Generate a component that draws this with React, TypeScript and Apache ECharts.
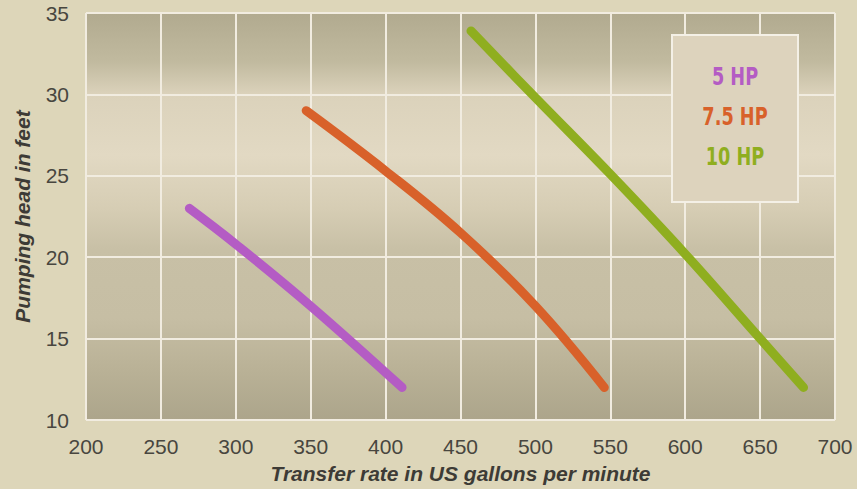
import React, { useEffect, useRef } from "react";
import * as echarts from "echarts";

const xTicks = [200, 250, 300, 350, 400, 450, 500, 550, 600, 650, 700];
const yTicks = [10, 15, 20, 25, 30, 35];

const hp5X = [269, 300, 350, 411];
const hp5Y = [23, 20.8, 17.0, 12];

const hp75X = [347, 400, 450, 500, 546];
const hp75Y = [29, 25.3, 21.5, 17.0, 12];

const hp10X = [457, 500, 550, 600, 650, 679];
const hp10Y = [33.9, 29.8, 25.1, 20.2, 15, 12];

const seriesNames = ["5 HP", "7.5 HP", "10 HP"];
const seriesColors = ["#b45cc4", "#d8612a", "#8fae1f"];

function pairs(xs: number[], ys: number[]) {
  return xs.map((x, i) => [x, ys[i]]);
}

export default function App() {
  const ref = useRef<HTMLDivElement>(null);
  useEffect(() => {
    if (!ref.current) return;
    const chart = echarts.init(ref.current, null, { renderer: "svg" });
    const datasets = [pairs(hp5X, hp5Y), pairs(hp75X, hp75Y), pairs(hp10X, hp10Y)];
    const labelFont = "'Liberation Sans', Arial, sans-serif";
    chart.setOption({
      animation: false,
      backgroundColor: "#ddd6b9",
      grid: {
        left: 86,
        right: 22,
        top: 13,
        bottom: 67,
        show: true,
        borderWidth: 1,
        borderColor: "#b0a98e",
        backgroundColor: new echarts.graphic.LinearGradient(0, 0, 0, 1, [
          { offset: 0, color: "#b1aa8f" },
          { offset: 0.12, color: "#c1ba9f" },
          { offset: 0.2, color: "#dbd2bb" },
          { offset: 0.35, color: "#e2d9c3" },
          { offset: 0.48, color: "#d6cdb4" },
          { offset: 0.58, color: "#c8c0a6" },
          { offset: 0.75, color: "#c6bea4" },
          { offset: 0.88, color: "#b9b196" },
          { offset: 1, color: "#aca58b" },
        ]),
      },
      xAxis: {
        type: "value",
        min: 200,
        max: 700,
        interval: 50,
        name: "Transfer rate in US gallons per minute",
        nameLocation: "middle",
        nameGap: 43,
        nameTextStyle: {
          fontFamily: labelFont,
          fontSize: 21,
          fontWeight: "bold",
          fontStyle: "italic",
          color: "#3d3b36",
        },
        axisLine: { show: false },
        axisTick: { show: false },
        axisLabel: {
          margin: 16,
          fontFamily: labelFont,
          fontSize: 21,
          color: "#48463f",
          formatter: (v: number) => (xTicks.includes(v) ? String(v) : ""),
        },
        splitLine: { show: true, lineStyle: { color: "#f1ece0", width: 2 } },
      },
      yAxis: {
        type: "value",
        min: 10,
        max: 35,
        interval: 5,
        name: "Pumping head in feet",
        nameLocation: "middle",
        nameGap: 53,
        nameTextStyle: {
          fontFamily: labelFont,
          fontSize: 21,
          fontWeight: "bold",
          fontStyle: "italic",
          color: "#3d3b36",
        },
        axisLine: { show: false },
        axisTick: { show: false },
        axisLabel: {
          margin: 17,
          fontFamily: labelFont,
          fontSize: 21,
          color: "#48463f",
          formatter: (v: number) => (yTicks.includes(v) ? String(v) : ""),
        },
        splitLine: { show: true, lineStyle: { color: "#f1ece0", width: 2 } },
      },
      series: datasets.map((d, i) => ({
        name: seriesNames[i],
        type: "line",
        data: d,
        smooth: 0.4,
        showSymbol: false,
        lineStyle: { color: seriesColors[i], width: 9, cap: "round" },
      })),
      graphic: [
        {
          type: "rect",
          shape: { x: 672, y: 35, width: 126, height: 167 },
          style: { fill: "#ddd3bd", stroke: "#f4f0e6", lineWidth: 2 },
          z: 10,
        },
        ...seriesNames.map((n, i) => ({
          type: "text",
          x: 735,
          y: 77 + i * 40,
          scaleX: 0.82,
          z: 11,
          style: {
            text: n,
            fill: seriesColors[i],
            font: "bold 24px 'DejaVu Sans Condensed', 'Liberation Sans', sans-serif",
            textAlign: "center",
            textVerticalAlign: "middle",
          },
        })),
      ],
    });
    return () => chart.dispose();
  }, []);
  return (
    <div
      ref={ref}
      style={{ position: "fixed", left: 0, top: 0, width: 857, height: 489 }}
    />
  );
}
